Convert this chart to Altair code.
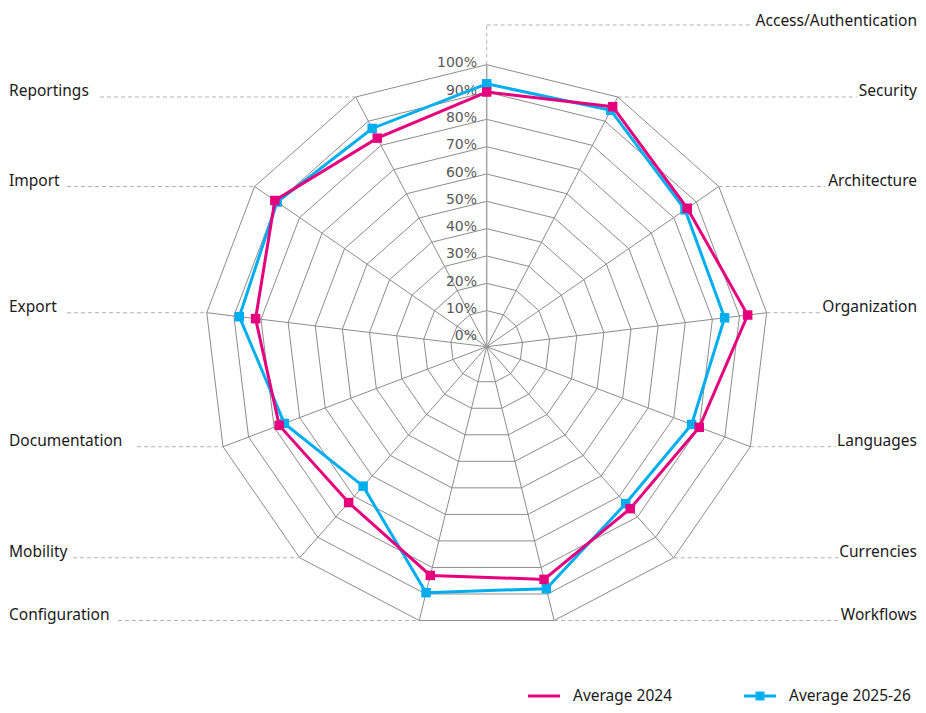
import math
import altair as alt
import pandas as pd

# ---------------- data ----------------
categories = ["Access/Authentication", "Security", "Architecture", "Organization",
              "Languages", "Currencies", "Workflows", "Configuration", "Mobility",
              "Documentation", "Export", "Import", "Reportings"]
avg_2024 = [90, 96, 86, 93, 80, 76, 84.5, 83, 73, 78, 82, 91, 83]
avg_2025_26 = [93, 94.5, 85, 84.5, 77, 73.5, 88, 89.5, 65, 76, 88, 90, 87]
tick_values = [0, 10, 20, 30, 40, 50, 60, 70, 80, 90, 100]
tick_labels = ["0%", "10%", "20%", "30%", "40%", "50%", "60%", "70%", "80%", "90%", "100%"]
series_names = ["Average 2024", "Average 2025-26"]
series_colors = ["#E5007E", "#00AEEF"]

# ---------------- layout ----------------
CX, CY, R = 486.7, 346.7, 282.0      # hub and 100% radius in page pixels
V_MIN = -3.2                          # value at the hub
W, H = 910, 697
N = len(categories)
right_side = categories[0:7]
# leader end (page x) for each label
leader_end = {"Access/Authentication": 750, "Security": 857, "Architecture": 825,
              "Organization": 822, "Languages": 836, "Currencies": 839, "Workflows": 840,
              "Configuration": 118, "Mobility": 73, "Documentation": 137, "Export": 67,
              "Import": 67, "Reportings": 100}
ACCESS_Y = 25
RIGHT_X = 917
LEFT_X = 9
FS = 15.5


def rad(v):
    return (v - V_MIN) / (100 - V_MIN)


def pol(v, i):
    a = 2 * math.pi * i / N
    r = rad(v)
    return r * math.sin(a), r * math.cos(a)


def dx(px):
    return (px - CX) / R


def dy(py):
    return (CY - py) / R


xs = alt.Scale(domain=[dx(8), dx(8 + W)], nice=False, zero=False)
ys = alt.Scale(domain=[dy(8 + H), dy(8)], nice=False, zero=False)


def X(f="x"):
    return alt.X(f, type="quantitative", scale=xs, axis=None)


def Y(f="y"):
    return alt.Y(f, type="quantitative", scale=ys, axis=None)


# rings
rows = []
for v in tick_values[1:]:
    for j in range(N + 1):
        x, y = pol(v, j % N)
        rows.append({"ring": v, "j": j, "x": x, "y": y})
rings = pd.DataFrame(rows)

# spokes
sp = []
for i in range(1, N):
    x2, y2 = pol(100, i)
    sp.append({"x": 0.0, "y": 0.0, "x2": x2, "y2": y2})
spokes = pd.DataFrame(sp)
ax2 = pol(100, 0)
axis_df = pd.DataFrame([{"x": 0.0, "y": 0.0, "x2": ax2[0], "y2": ax2[1]}])

# leaders and labels
ld, lab_r, lab_l = [], [], []
for i, c in enumerate(categories):
    vx, vy = pol(100, i)
    if i == 0:
        ld.append({"x": vx, "y": vy, "x2": vx, "y2": dy(ACCESS_Y)})
        ld.append({"x": vx, "y": dy(ACCESS_Y), "x2": dx(leader_end[c]), "y2": dy(ACCESS_Y)})
        lab_r.append({"x": dx(RIGHT_X), "y": dy(ACCESS_Y + 1), "label": c})
    elif c in right_side:
        ld.append({"x": vx, "y": vy, "x2": dx(leader_end[c]), "y2": vy})
        lab_r.append({"x": dx(RIGHT_X), "y": vy + 1 / R, "label": c})
    else:
        ld.append({"x": dx(leader_end[c]), "y": vy, "x2": vx, "y2": vy})
        lab_l.append({"x": dx(LEFT_X), "y": vy + 1 / R, "label": c})
leaders = pd.DataFrame(ld)
labels_r = pd.DataFrame(lab_r)
labels_l = pd.DataFrame(lab_l)

ticks = pd.DataFrame({"x": [dx(477)] * len(tick_values),
                      "y": [rad(v) + 1.5 / R for v in tick_values],
                      "label": tick_labels})

# series
srows, mrows = [], []
for s, vals in zip(series_names, [avg_2024, avg_2025_26]):
    for j in range(N + 1):
        x, y = pol(vals[j % N], j % N)
        srows.append({"series": s, "j": j, "x": x, "y": y})
        if j < N:
            mrows.append({"series": s, "x": x, "y": y})
series_df = pd.DataFrame(srows)
marker_df = pd.DataFrame(mrows)

color = alt.Color("series:N", scale=alt.Scale(domain=series_names, range=series_colors), legend=None)

# legend
LEG_Y = 696
leg_lines = pd.DataFrame([
    {"series": series_names[0], "x": dx(528), "x2": dx(560), "y": dy(LEG_Y)},
    {"series": series_names[1], "x": dx(744), "x2": dx(776), "y": dy(LEG_Y)},
])
leg_marker = pd.DataFrame([{"series": series_names[1], "x": dx(760), "y": dy(LEG_Y)}])
leg_text = pd.DataFrame([
    {"label": series_names[0], "x": dx(573), "y": dy(LEG_Y)},
    {"label": series_names[1], "x": dx(789), "y": dy(LEG_Y)},
])

GRID = "#8c8c8c"

ring_layer = alt.Chart(rings).mark_line(color=GRID, strokeWidth=1).encode(
    x=X(), y=Y(), detail="ring:N", order="j:Q")
spoke_layer = alt.Chart(spokes).mark_rule(color=GRID, strokeWidth=1).encode(
    x=X(), y=Y(), x2="x2", y2="y2")
axis_layer = alt.Chart(axis_df).mark_rule(color="#a6a6a6", strokeWidth=1.5).encode(
    x=X(), y=Y(), x2="x2", y2="y2")
leader_layer = alt.Chart(leaders).mark_rule(color="#b3b3b3", strokeWidth=1, strokeDash=[4, 3]).encode(
    x=X(), y=Y(), x2="x2", y2="y2")
lab_r_layer = alt.Chart(labels_r).mark_text(
    align="right", baseline="alphabetic", font="Noto Sans", fontSize=FS, color="#1a1a1a").encode(
    x=X(), y=Y(), text="label:N")
lab_l_layer = alt.Chart(labels_l).mark_text(
    align="left", baseline="alphabetic", font="Noto Sans", fontSize=FS, color="#1a1a1a").encode(
    x=X(), y=Y(), text="label:N")
tick_layer = alt.Chart(ticks).mark_text(
    align="right", baseline="middle", font="DejaVu Sans", fontSize=14, color="#595959").encode(
    x=X(), y=Y(), text="label:N")

# draw blue first, pink on top
line_blue = alt.Chart(series_df[series_df.series == series_names[1]]).mark_line(strokeWidth=3).encode(
    x=X(), y=Y(), color=color, order="j:Q")
line_pink = alt.Chart(series_df[series_df.series == series_names[0]]).mark_line(strokeWidth=3).encode(
    x=X(), y=Y(), color=color, order="j:Q")
mk_blue = alt.Chart(marker_df[marker_df.series == series_names[1]]).mark_square(size=90, opacity=1).encode(
    x=X(), y=Y(), color=color)
mk_pink = alt.Chart(marker_df[marker_df.series == series_names[0]]).mark_square(size=90, opacity=1).encode(
    x=X(), y=Y(), color=color)

leg_line_layer = alt.Chart(leg_lines).mark_rule(strokeWidth=3).encode(
    x=X(), y=Y(), x2="x2", color=color)
leg_mk_layer = alt.Chart(leg_marker).mark_square(size=80, opacity=1).encode(
    x=X(), y=Y(), color=color)
leg_text_layer = alt.Chart(leg_text).mark_text(
    align="left", baseline="middle", font="Noto Sans", fontSize=FS, color="#1a1a1a").encode(
    x=X(), y=Y(), text="label:N")

chart = alt.layer(
    ring_layer, spoke_layer, axis_layer, leader_layer, lab_r_layer, lab_l_layer, tick_layer,
    line_blue, mk_blue, line_pink, mk_pink,
    leg_line_layer, leg_mk_layer, leg_text_layer,
).properties(width=W, height=H, padding=0, autosize="none").configure_view(stroke=None)

chart.save("out.html", embed_options={"renderer": "svg", "actions": False})
